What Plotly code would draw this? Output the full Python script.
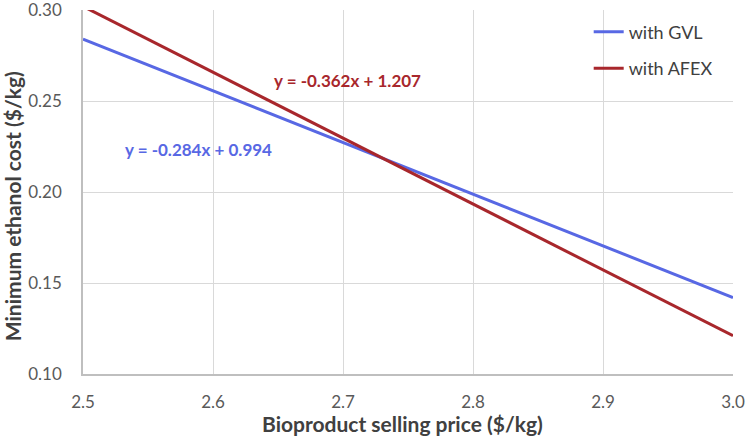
import plotly.graph_objects as go

price = [2.5, 3.0]
cost_gvl = [0.284, 0.142]
cost_afex = [0.302, 0.121]
x_ticks = [2.5, 2.6, 2.7, 2.8, 2.9, 3.0]
y_ticks = [0.10, 0.15, 0.20, 0.25, 0.30]

blue = "#5868E4"
red = "#A8272C"
grid = "#D9D9D9"
font = "Lato, 'Open Sans', sans-serif"
title_font = {"family": font, "size": 21, "color": "#404040"}

fig = go.Figure()
fig.add_trace(go.Scatter(x=price, y=cost_gvl, mode="lines", name="with GVL",
                         legendgroup="a", line={"color": blue, "width": 3}))
fig.add_trace(go.Scatter(x=price, y=cost_afex, mode="lines", name="with AFEX",
                         legendgroup="b", line={"color": red, "width": 3}))

fig.add_annotation(x=2.7035, y=0.2615, text="<b>y = -0.362x + 1.207</b>", showarrow=False,
                   font={"family": font, "size": 17, "color": red})
fig.add_annotation(x=2.5885, y=0.2236, text="<b>y = -0.284x + 0.994</b>", showarrow=False,
                   font={"family": font, "size": 17, "color": blue})

# axis titles as annotations so they sit where the original has them
fig.add_annotation(xref="paper", yref="paper", x=0.4908, y=-0.137,
                   xanchor="center", yanchor="middle",
                   text="<b>Bioproduct selling price ($/kg)</b>", showarrow=False,
                   font=title_font)
fig.add_annotation(xref="paper", yref="paper", x=-0.109, y=0.4615, textangle=-90,
                   xanchor="center", yanchor="middle",
                   text="<b>Minimum ethanol cost ($/kg)</b>", showarrow=False,
                   font=title_font)

fig.update_layout(
    width=747,
    height=446,
    margin={"l": 83, "r": 14, "t": 10, "b": 72},
    plot_bgcolor="white",
    paper_bgcolor="white",
    font={"family": font, "size": 17, "color": "#595959"},
    legend={"x": 0.778, "y": 0.99, "xanchor": "left", "yanchor": "top",
            "bgcolor": "rgba(0,0,0,0)", "font": {"size": 18, "color": "#404040"},
            "traceorder": "grouped", "tracegroupgap": 10},
    showlegend=True,
)
fig.update_xaxes(range=[2.5, 3.0], tickvals=x_ticks, ticktext=[f"{v:.1f}" for v in x_ticks],
                 showgrid=True, gridcolor=grid, gridwidth=1.3, zeroline=False,
                 showline=True, linecolor="#BFBFBF", linewidth=1.5, ticks="",
                 ticklabelstandoff=12, ticklabeloverflow="allow", automargin=False)
fig.update_yaxes(range=[0.10, 0.30], tickvals=y_ticks, ticktext=[f"{v:.2f}" for v in y_ticks],
                 showgrid=True, gridcolor=grid, gridwidth=1.3, zeroline=False,
                 showline=True, linecolor="#BFBFBF", linewidth=1.5, ticks="",
                 ticklabelstandoff=16, ticklabeloverflow="allow", automargin=False)

# the page's default body margin would push the figure 8px off the window
fig.write_html("out.html", config={"displayModeBar": False},
               post_script="document.body.style.margin = '0';")
